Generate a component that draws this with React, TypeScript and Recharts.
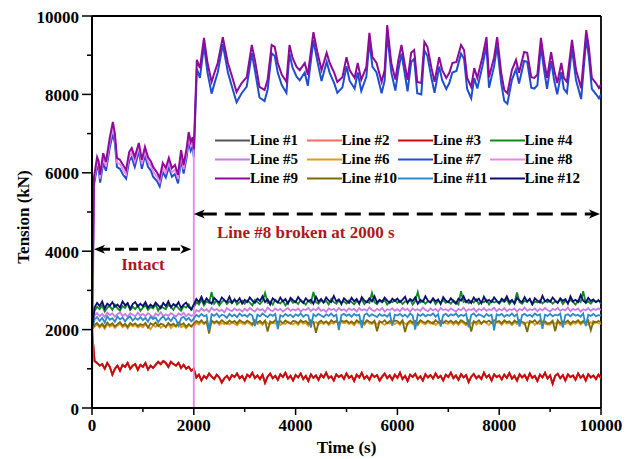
import React from 'react';
import { LineChart, Line, XAxis, YAxis, ReferenceLine, ReferenceDot, Legend, Label } from 'recharts';

const FONT = '"Liberation Serif", "Times New Roman", Times, serif';
const TEXT_RED = '#b0161c';

// axis ticks
const xTicks = [0, 1000, 2000, 3000, 4000, 5000, 6000, 7000, 8000, 9000, 10000];
const yTicks = [0, 1000, 2000, 3000, 4000, 5000, 6000, 7000, 8000, 9000, 10000];

// sampling instants (s) for the slowly varying, high-tension lines
const hiTime = [
  0, 40, 100, 130, 160, 220, 275, 350, 410, 450,
  490, 550, 610, 670, 730, 780, 840, 920, 980, 1040,
  1100, 1160, 1200, 1280, 1330, 1390, 1450, 1510, 1570, 1630,
  1690, 1750, 1800, 1860, 1900, 1940, 1980, 2000, 2060, 2120,
  2200, 2270, 2350, 2410, 2470, 2570, 2670, 2760, 2840, 2940,
  3040, 3140, 3200, 3290, 3390, 3450, 3530, 3590, 3650, 3730,
  3820, 3880, 3940, 4020, 4080, 4180, 4240, 4350, 4430, 4510,
  4610, 4670, 4760, 4820, 4920, 5000, 5060, 5160, 5220, 5290,
  5390, 5450, 5510, 5590, 5690, 5750, 5800, 5880, 5960, 6020,
  6080, 6140, 6200, 6270, 6330, 6390, 6470, 6530, 6590, 6670,
  6730, 6820, 6880, 6960, 7020, 7080, 7160, 7250, 7310, 7370,
  7450, 7510, 7570, 7670, 7750, 7800, 7900, 7960, 8040, 8100,
  8160, 8250, 8330, 8390, 8490, 8550, 8630, 8690, 8750, 8820,
  8880, 8940, 9020, 9080, 9140, 9220, 9270, 9330, 9430, 9510,
  9610, 9710, 9760, 9820, 9900, 9960, 10000,
];

// Line #9 (kN)
const line9 = [
  2000, 5900, 6400, 6300, 5950, 6500, 6280, 6900, 7300, 7000,
  6380, 6330, 6200, 6070, 6530, 6630, 6400, 6760, 6330, 6660,
  6400, 6280, 6150, 6000, 5870, 6250, 6120, 6380, 6120, 6200,
  5950, 6580, 6200, 6630, 7040, 6790, 6910, 6600, 8880, 8670,
  9440, 8800, 8320, 8570, 8800, 9460, 8800, 8420, 8060, 8290,
  8440, 9260, 8880, 8190, 8110, 8370, 9260, 9210, 8800, 8500,
  8320, 9260, 8930, 8700, 8620, 8800, 8500, 9590, 9060, 8620,
  9060, 8800, 8550, 8320, 8440, 8950, 8620, 8420, 8800, 8370,
  8700, 9570, 8950, 8800, 8320, 8620, 9770, 8800, 8380, 8880,
  9260, 8800, 8370, 9060, 9130, 8320, 8290, 9340, 9210, 8670,
  8320, 8950, 8620, 8420, 8550, 8800, 8830, 9260, 9130, 8420,
  8190, 8670, 8420, 8950, 9460, 8440, 8950, 9460, 8550, 8110,
  8030, 8620, 8880, 8550, 9080, 9060, 8440, 8420, 8500, 9440,
  8880, 8420, 9080, 8620, 8290, 8800, 8420, 8320, 9390, 8620,
  8160, 9640, 9210, 8420, 8290, 8160, 8250,
];

// Line #7 (kN)
const line7 = [
  2000, 5700, 6150, 6100, 5750, 6250, 6050, 6650, 7000, 6750,
  6150, 6100, 5950, 5850, 6300, 6400, 6150, 6550, 6100, 6450,
  6150, 6050, 5900, 5780, 5650, 6020, 5880, 6150, 5900, 5970,
  5730, 6350, 5980, 6400, 6800, 6560, 6680, 6400, 8650, 8420,
  9250, 8550, 8020, 8300, 8560, 9280, 8560, 8150, 7800, 8030,
  8200, 9050, 8620, 7920, 7830, 8120, 9050, 8980, 8550, 8230,
  8040, 9040, 8680, 8450, 8360, 8560, 8220, 9380, 8830, 8340,
  8830, 8550, 8280, 8040, 8180, 8720, 8350, 8150, 8560, 8090,
  8450, 9350, 8700, 8560, 8030, 8360, 9550, 8560, 8100, 8630,
  9040, 8560, 8080, 8820, 8910, 8030, 8000, 9120, 8980, 8410,
  8040, 8710, 8360, 8140, 8290, 8560, 8600, 9040, 8900, 8140,
  7900, 8420, 8150, 8720, 9250, 8170, 8720, 9240, 8280, 7830,
  7760, 8370, 8640, 8280, 8850, 8830, 8170, 8150, 8230, 9220,
  8640, 8140, 8850, 8360, 8000, 8570, 8140, 8040, 9170, 8360,
  7880, 9430, 8980, 8140, 8010, 7900, 8000,
];

// Line #8 (kN): intact until 2000 s, then broken (drops to 0)
const line8Time = [...hiTime.slice(0, 38), 2000];
const line8 = [
  0, 5800, 6280, 6200, 5850, 6380, 6160, 6780, 7150, 6880,
  6260, 6220, 6080, 5960, 6420, 6520, 6280, 6650, 6220, 6550,
  6280, 6170, 6030, 5890, 5760, 6130, 6000, 6260, 6010, 6080,
  5840, 6460, 6090, 6510, 6920, 6680, 6800, 6500, 0,
];

// sampling grid (s) for the noisy lines: every 50 s
const gridTime = Array.from({ length: 201 }, (_, i) => i * 50);

// Line #3 (kN)
const line3 = [
  2000, 1200, 1150, 1080, 1120, 1000, 1150, 1050, 850, 1000, 1080, 950, 1100, 1050, 1150, 1000, 1080, 1120, 970, 1100,
  1050, 1150, 980, 1080, 1020, 1100, 1180, 1120, 1200, 1150, 1050, 1180, 1120, 1080, 1150, 1020, 1100, 1000, 1050, 950,
  1000, 780, 850, 700, 820, 760, 880, 800, 740, 850, 780, 650, 760, 820, 720, 840, 790, 880, 760, 820,
  700, 850, 790, 900, 760, 830, 740, 850, 640, 800, 880, 760, 820, 720, 860, 790, 900, 750, 820, 700,
  840, 780, 880, 740, 820, 690, 860, 770, 830, 720, 850, 780, 900, 760, 810, 700, 860, 790, 840, 740,
  880, 770, 820, 690, 850, 780, 900, 750, 820, 720, 860, 790, 840, 700, 800, 880, 760, 830, 720, 850,
  770, 900, 740, 820, 690, 850, 790, 870, 740, 810, 700, 860, 780, 840, 750, 880, 770, 820, 700, 850,
  790, 900, 760, 830, 720, 860, 780, 840, 660, 800, 870, 760, 820, 740, 900, 780, 840, 700, 860, 790,
  830, 730, 850, 770, 890, 750, 820, 700, 860, 780, 840, 720, 880, 770, 820, 690, 850, 780, 900, 750,
  830, 620, 820, 870, 760, 840, 700, 860, 790, 830, 720, 880, 770, 840, 700, 860, 780, 830, 740, 850,
  760,
];
// Lines #1 and #2 lie under Line #3
const line1 = line3;
const line2 = line3;

// Line #4 (kN)
const line4 = [
  2000, 2480, 2580, 2520, 2620, 2460, 2560, 2600, 2500, 2640, 2540, 2480, 2600, 2550, 2660, 2500, 2580, 2520, 2620, 2480,
  2560, 2620, 2500, 2580, 2540, 2650, 2480, 2600, 2560, 2520, 2640, 2580, 2500, 2620, 2540, 2480, 2600, 2560, 2640, 2500,
  2560, 2700, 2640, 2760, 2620, 2720, 2680, 2960, 2660, 2740, 2620, 2700, 2760, 2650, 2720, 2680, 2780, 2640, 2700, 2740,
  2660, 2740, 2690, 2620, 2760, 2700, 2650, 2730, 2940, 2680, 2720, 2640, 2760, 2700, 2670, 2740, 2620, 2700, 2760, 2680,
  2720, 2650, 2760, 2700, 2640, 2740, 2680, 2960, 2700, 2660, 2750, 2690, 2730, 2640, 2780, 2700, 2660, 2740, 2690, 2720,
  2660, 2750, 2700, 2640, 2730, 2690, 2770, 2650, 2720, 2680, 2940, 2700, 2650, 2740, 2690, 2760, 2640, 2720, 2700, 2750,
  2680, 2740, 2650, 2720, 2700, 2770, 2640, 2730, 2960, 2690, 2740, 2660, 2720, 2700, 2780, 2650, 2730, 2690, 2760, 2680,
  2720, 2660, 2750, 2700, 2640, 2980, 2700, 2740, 2670, 2730, 2690, 2770, 2650, 2720, 2700, 2760, 2640, 2740, 2690, 2720,
  2660, 2740, 2700, 2770, 2650, 2730, 2690, 2950, 2700, 2660, 2740, 2700, 2780, 2640, 2720, 2690, 2750, 2670, 2730, 2700,
  2740, 2660, 2720, 2700, 2770, 2650, 2730, 2690, 2760, 2700, 2640, 2740, 2700, 2980, 2680, 2720, 2660, 2740, 2700, 2760,
  2660,
];
// Line #5 (kN)
const line5 = [
  2000, 2360, 2420, 2340, 2400, 2320, 2430, 2370, 2410, 2330, 2390, 2440, 2350, 2400, 2320, 2420, 2380, 2340, 2430, 2360,
  2400, 2340, 2420, 2370, 2310, 2410, 2360, 2440, 2340, 2390, 2350, 2420, 2380, 2330, 2410, 2370, 2430, 2340, 2400, 2350,
  2380, 2500, 2460, 2540, 2480, 2520, 2450, 2560, 2490, 2530, 2470, 2510, 2440, 2550, 2500, 2470, 2540, 2490, 2520, 2460,
  2530, 2480, 2550, 2500, 2460, 2540, 2490, 2520, 2450, 2560, 2500, 2470, 2540, 2490, 2530, 2460, 2510, 2550, 2480, 2520,
  2490, 2540, 2460, 2520, 2500, 2550, 2470, 2530, 2490, 2560, 2480, 2510, 2450, 2540, 2500, 2530, 2470, 2550, 2490, 2520,
  2470, 2540, 2500, 2530, 2460, 2550, 2490, 2520, 2480, 2560, 2500, 2470, 2530, 2490, 2550, 2460, 2520, 2500, 2540, 2480,
  2520, 2470, 2550, 2500, 2530, 2460, 2540, 2490, 2520, 2480, 2560, 2500, 2470, 2540, 2490, 2530, 2460, 2550, 2500, 2520,
  2480, 2540, 2500, 2460, 2530, 2490, 2560, 2470, 2520, 2500, 2540, 2460, 2530, 2490, 2550, 2480, 2520, 2500, 2560, 2470,
  2530, 2490, 2550, 2470, 2520, 2500, 2540, 2460, 2530, 2490, 2560, 2480, 2520, 2500, 2540, 2470, 2530, 2490, 2550, 2500,
  2460, 2530, 2500, 2550, 2480, 2520, 2490, 2560, 2470, 2530, 2500, 2540, 2460, 2520, 2490, 2550, 2480, 2530, 2500, 2540,
  2500,
];
// Line #6 (kN)
const line6 = [
  2000, 2080, 2130, 2050, 2110, 2020, 2140, 2070, 2120, 2040, 2100, 2150, 2060, 2110, 2030, 2130, 2080, 2120, 2050, 2100,
  2060, 2130, 2080, 2010, 2110, 2070, 2140, 2050, 2100, 2080, 2130, 2040, 2110, 2070, 2140, 2060, 2100, 2030, 2120, 2080,
  2090, 2170, 2130, 2200, 2140, 2180, 2110, 2210, 2150, 2190, 2120, 2170, 2140, 2200, 2130, 2180, 2150, 2110, 2190, 2160,
  2130, 2190, 2150, 2100, 2200, 2140, 2180, 2120, 2210, 2160, 2130, 2190, 2150, 2200, 2120, 2170, 2140, 2210, 2160, 2130,
  2180, 2120, 2200, 2150, 2170, 2100, 2210, 2160, 2190, 2130, 2180, 2140, 2200, 2120, 2170, 2150, 2210, 2130, 2190, 2160,
  2190, 2140, 2170, 2110, 2200, 2150, 2180, 2120, 2210, 2160, 2140, 2190, 2130, 2200, 2160, 2120, 2180, 2150, 2210, 2140,
  2180, 2120, 2210, 2150, 2130, 2190, 2140, 2180, 2110, 2200, 2160, 2130, 2190, 2150, 2200, 2120, 2170, 2140, 2210, 2160,
  2150, 2190, 2130, 2180, 2120, 2200, 2160, 2110, 2190, 2150, 2200, 2130, 2170, 2140, 2210, 2160, 2120, 2190, 2150, 2180,
  2180, 2120, 2200, 2150, 2170, 2110, 2190, 2140, 2210, 2160, 2130, 2190, 2150, 2200, 2120, 2180, 2140, 2210, 2150, 2130,
  2130, 2190, 2150, 2200, 2120, 2170, 2140, 2190, 2110, 2170, 2150, 2200, 2130, 2180, 2160, 2120, 2190, 2140, 2200, 2160,
  2150,
];
// Line #10 (kN)
const line10 = [
  2000, 2120, 2170, 2090, 2150, 2060, 2180, 2110, 2160, 2080, 2140, 2190, 2100, 2150, 2070, 2170, 2120, 2160, 2090, 2140,
  2110, 2170, 2050, 2160, 2120, 2180, 2090, 2150, 2130, 2060, 2170, 2110, 2150, 2090, 2180, 2120, 2160, 2070, 2140, 2080,
  2150, 2220, 2180, 2240, 2160, 2210, 1900, 2230, 2180, 2220, 2170, 2240, 2190, 2150, 2230, 2180, 2220, 2160, 2240, 2200,
  2170, 2230, 2190, 2140, 2240, 2180, 2220, 2160, 2230, 1950, 2210, 2170, 2240, 2190, 2220, 2160, 2230, 2180, 2150, 2220,
  2210, 2160, 2240, 2190, 2220, 2150, 2240, 2200, 1920, 2180, 2230, 2170, 2210, 2150, 2240, 2190, 2220, 2160, 2230, 2200,
  2230, 2170, 2210, 2150, 2240, 2190, 2220, 2160, 2240, 2200, 2170, 2230, 1960, 2210, 2180, 2240, 2160, 2220, 2190, 2230,
  2220, 2160, 2240, 1940, 2170, 2230, 2180, 2220, 2150, 2240, 2200, 2170, 2230, 2190, 2150, 2240, 2180, 2220, 2160, 2230,
  2190, 2230, 2170, 2220, 2160, 2240, 2200, 2150, 2230, 1950, 2210, 2180, 2240, 2160, 2220, 2190, 2230, 2170, 2240, 2200,
  2220, 2160, 2240, 2190, 2210, 2150, 2230, 2180, 2240, 2200, 2170, 1940, 2220, 2190, 2240, 2160, 2230, 2180, 2210, 2150,
  2170, 2230, 1960, 2240, 2160, 2210, 2180, 2230, 2150, 2210, 2190, 2240, 2170, 2220, 2160, 2230, 1980, 2210, 2180, 2220,
  2190,
];
// Line #11 (kN)
const line11 = [
  2000, 2260, 2320, 2220, 2300, 2180, 2340, 2250, 2290, 2200, 2330, 2260, 2310, 2210, 2290, 2340, 2230, 2300, 2250, 2320,
  2240, 2300, 2200, 2330, 2270, 2310, 2190, 2280, 2340, 2240, 2300, 2220, 2320, 2260, 2100, 2290, 2330, 2240, 2300, 2210,
  2280, 2380, 2330, 2400, 2340, 2370, 1980, 2390, 2350, 2410, 2320, 2380, 2360, 2300, 2400, 2340, 2380, 2320, 2410, 2350,
  2380, 2330, 2400, 2360, 2090, 2380, 2340, 2410, 2360, 2320, 2390, 2350, 2400, 2010, 2370, 2330, 2400, 2350, 2380, 2320,
  2390, 2350, 2410, 2330, 2380, 2360, 2050, 2390, 2340, 2400, 2360, 2320, 2390, 2350, 2410, 2340, 2380, 1990, 2370, 2400,
  2350, 2390, 2330, 2400, 2360, 2380, 2040, 2370, 2410, 2340, 2390, 2360, 2320, 2400, 2350, 2380, 2330, 2410, 2100, 2380,
  2360, 2400, 2340, 2380, 2320, 2410, 2360, 2000, 2390, 2350, 2400, 2340, 2380, 2360, 2410, 2330, 2390, 2080, 2370, 2400,
  2340, 2390, 2360, 2410, 2330, 2380, 2350, 2400, 2060, 2370, 2410, 2340, 2390, 2360, 2320, 2400, 2350, 2380, 1980, 2390,
  2360, 2400, 2330, 2380, 2350, 2410, 2340, 2390, 2080, 2370, 2400, 2350, 2380, 2330, 2410, 2360, 2390, 2020, 2380, 2350,
  2400, 2340, 2380, 2360, 2410, 2050, 2370, 2390, 2340, 2400, 2360, 2380, 2330, 2410, 2090, 2380, 2350, 2400, 2340, 2370,
  2360,
];
// Line #12 (kN)
const line12 = [
  2000, 2560, 2680, 2600, 2720, 2540, 2660, 2610, 2700, 2580, 2640, 2560, 2720, 2620, 2680, 2530, 2650, 2700, 2590, 2660,
  2600, 2700, 2560, 2640, 2580, 2690, 2620, 2540, 2680, 2600, 2720, 2570, 2650, 2600, 2700, 2550, 2640, 2690, 2580, 2520,
  2640, 2780, 2700, 2840, 2680, 2800, 2720, 2660, 2810, 2740, 2690, 2820, 2750, 2700, 2840, 2680, 2760, 2710, 2800, 2660,
  2760, 2700, 2820, 2740, 2680, 2790, 2730, 2850, 2700, 2770, 2640, 2800, 2740, 2690, 2820, 2720, 2780, 2660, 2810, 2750,
  2700, 2830, 2740, 2680, 2800, 2720, 2760, 2660, 2840, 2710, 2780, 2690, 2820, 2740, 2700, 2860, 2720, 2770, 2650, 2800,
  2740, 2680, 2810, 2720, 2780, 2660, 2830, 2740, 2700, 2800, 2720, 2850, 2690, 2760, 2710, 2820, 2740, 2680, 2790, 2730,
  2790, 2700, 2760, 2840, 2680, 2780, 2730, 2820, 2660, 2760, 2710, 2850, 2740, 2690, 2800, 2720, 2770, 2650, 2830, 2740,
  2700, 2800, 2720, 2660, 2790, 2740, 2850, 2700, 2760, 2680, 2820, 2730, 2790, 2670, 2840, 2710, 2760, 2700, 2820, 2740,
  2680, 2790, 2730, 2850, 2700, 2760, 2660, 2810, 2740, 2700, 2830, 2720, 2780, 2650, 2800, 2740, 2690, 2860, 2720, 2770,
  2710, 2820, 2740, 2680, 2800, 2730, 2780, 2660, 2850, 2720, 2760, 2700, 2880, 2740, 2690, 2810, 2730, 2770, 2700, 2740,
  2700,
];

const seriesNames = [
  'Line #1', 'Line #2', 'Line #3', 'Line #4',
  'Line #5', 'Line #6', 'Line #7', 'Line #8',
  'Line #9', 'Line #10', 'Line #11', 'Line #12',
];
const seriesColors = [
  '#555555', '#ff6a6a', '#cc0a0a', '#118a22',
  '#c97be6', '#e59a1c', '#1f4fd0', '#ee84e8',
  '#8e0a9a', '#7d6a08', '#2b8bc8', '#0c0c72',
];

const toPoints = (times: number[], vals: number[]) => vals.map((v, i) => ({ t: times[i], v }));

const seriesData = [
  toPoints(gridTime, line1),
  toPoints(gridTime, line2),
  toPoints(gridTime, line3),
  toPoints(gridTime, line4),
  toPoints(gridTime, line5),
  toPoints(gridTime, line6),
  toPoints(hiTime, line7),
  toPoints(line8Time, line8),
  toPoints(hiTime, line9),
  toPoints(gridTime, line10),
  toPoints(gridTime, line11),
  toPoints(gridTime, line12),
];

const XTick = (props: any) => {
  const { x, y, payload } = props;
  const major = payload.value % 2000 === 0;
  return (
    <g>
      <line x1={x} y1={y} x2={x} y2={y + (major ? 7 : 4)} stroke="#000" strokeWidth={1.5} />
      {major && (
        <text x={x} y={y + 23} textAnchor="middle" fontFamily={FONT} fontWeight="bold" fontSize={17} fill="#000">
          {payload.value}
        </text>
      )}
    </g>
  );
};

const YTick = (props: any) => {
  const { x, y, payload } = props;
  const major = payload.value % 2000 === 0;
  return (
    <g>
      <line x1={x} y1={y} x2={x - (major ? 10 : 5)} y2={y} stroke="#000" strokeWidth={1.5} />
      {major && (
        <text x={x - 13} y={y + 6.5} textAnchor="end" fontFamily={FONT} fontWeight="bold" fontSize={17} fill="#000">
          {payload.value}
        </text>
      )}
    </g>
  );
};

const XLabel = (props: any) => {
  const vb = props.viewBox;
  return (
    <text x={vb.x + vb.width / 2} y={vb.y + 45} textAnchor="middle" fontFamily={FONT} fontWeight="bold" fontSize={17} fill="#000">
      Time (s)
    </text>
  );
};

const YLabel = (props: any) => {
  const vb = props.viewBox;
  const cx = 23;
  const cy = vb.y + vb.height / 2 + 5;
  return (
    <text x={cx} y={cy} transform={`rotate(-90 ${cx} ${cy})`} textAnchor="middle" dominantBaseline="central" fontFamily={FONT} fontWeight="bold" fontSize={17} fill="#000">
      Tension (kN)
    </text>
  );
};

const makeArrow = (dash: string) => (p: any) => {
  const { x1, y1, x2 } = p;
  const y = y1;
  const left = Math.min(x1, x2);
  const right = Math.max(x1, x2);
  const L = 11;
  const H = 4.5;
  return (
    <g>
      <line x1={left + 7} y1={y} x2={right - 7} y2={y} stroke="#000" strokeWidth={3} strokeDasharray={dash} />
      <polygon points={`${left},${y} ${left + L},${y - H} ${left + L - 3},${y} ${left + L},${y + H}`} fill="#000" />
      <polygon points={`${right},${y} ${right - L},${y - H} ${right - L + 3},${y} ${right - L},${y + H}`} fill="#000" />
    </g>
  );
};

const makeText = (txt: string) => (p: any) => (
  <text x={p.cx} y={p.cy + 6} textAnchor="middle" fontFamily={FONT} fontWeight="bold" fontSize={17} fill={TEXT_RED}>
    {txt}
  </text>
);

const LegendBox = () => (
  <div
    style={{
      display: 'grid',
      gridTemplateColumns: 'repeat(4, 91.5px)',
      fontFamily: FONT,
      fontWeight: 'bold',
      fontSize: 15,
      color: '#000',
    }}
  >
    {seriesNames.map((name, i) => (
      <div key={name} style={{ display: 'flex', alignItems: 'center', height: 19, whiteSpace: 'nowrap' }}>
        <svg width={35} height={19} style={{ display: 'block', flex: 'none' }}>
          <line x1={0} y1={9.5} x2={35} y2={9.5} stroke={seriesColors[i]} strokeWidth={2} />
        </svg>
        <span style={{ lineHeight: '19px' }}>{name}</span>
      </div>
    ))}
  </div>
);

export default function App() {
  return (
    <div style={{ width: 634, height: 459, background: '#fff', position: 'relative', overflow: 'hidden' }}>
      <style>{`body{margin:0;background:#fff;}`}</style>
      <LineChart width={634} height={459} margin={{ top: 16, right: 33, bottom: 0, left: 0 }}>
        <XAxis
          type="number"
          dataKey="t"
          domain={[0, 10000]}
          ticks={xTicks}
          interval={0}
          height={51}
          tickSize={0}
          tickMargin={0}
          tick={XTick}
          tickLine={false}
          axisLine={{ stroke: '#000', strokeWidth: 2 }}
          allowDataOverflow
        >
          <Label content={XLabel} />
        </XAxis>
        <YAxis
          type="number"
          domain={[0, 10000]}
          ticks={yTicks}
          interval={0}
          width={92}
          tickSize={0}
          tickMargin={0}
          tick={YTick}
          tickLine={false}
          axisLine={{ stroke: '#000', strokeWidth: 2 }}
          allowDataOverflow
        >
          <Label content={YLabel} />
        </YAxis>
        <ReferenceLine x={10000} stroke="#000" strokeWidth={1.8} />
        <ReferenceLine y={10000} stroke="#000" strokeWidth={1.8} />
        {seriesNames.map((name, i) => (
          <Line
            key={name}
            name={name}
            data={seriesData[i]}
            dataKey="v"
            type="linear"
            stroke={seriesColors[i]}
            strokeWidth={i === 6 || i === 8 ? 2 : 1.8}
            dot={false}
            activeDot={false}
            isAnimationActive={false}
          />
        ))}
        <ReferenceLine segment={[{ x: 40, y: 4050 }, { x: 1950, y: 4050 }]} shape={makeArrow('9 5')} />
        <ReferenceLine segment={[{ x: 2000, y: 4950 }, { x: 9980, y: 4950 }]} shape={makeArrow('16 8')} />
        <ReferenceDot x={1000} y={3670} r={0} shape={makeText('Intact')} />
        <ReferenceDot x={4200} y={4480} r={0} shape={makeText('Line #8 broken at 2000 s')} />
        <Legend
          layout="horizontal"
          verticalAlign="middle"
          align="center"
          content={LegendBox}
          wrapperStyle={{ left: 215, top: 130.5, width: 370, height: 57 }}
        />
      </LineChart>
    </div>
  );
}
